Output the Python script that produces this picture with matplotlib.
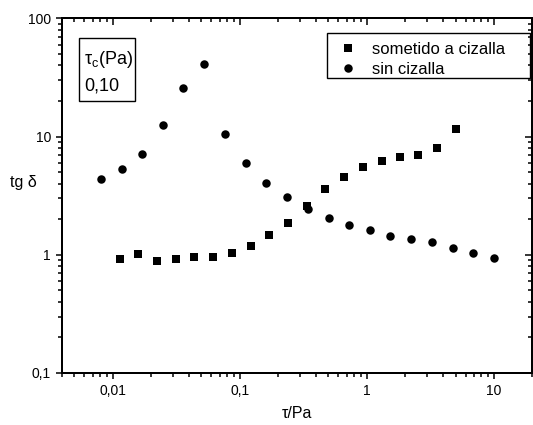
import matplotlib
matplotlib.use("Agg")
import matplotlib.pyplot as plt
from matplotlib.ticker import FixedLocator, FixedFormatter, LogLocator, NullFormatter
from matplotlib.patches import Rectangle

plt.rcParams['font.family'] = ['Liberation Sans', 'DejaVu Sans']
plt.rcParams['mathtext.fontset'] = 'custom'
plt.rcParams['mathtext.rm'] = 'Liberation Sans'
plt.rcParams['mathtext.it'] = 'Liberation Sans'

# Data
x_shear = [0.0114, 0.0159, 0.0224, 0.0313, 0.0441, 0.0615, 0.0866, 0.122, 0.1705,
           0.240, 0.338, 0.466, 0.659, 0.929, 1.309, 1.823, 2.549, 3.592, 5.058]
y_shear = [0.929, 1.01, 0.893, 0.929, 0.952, 0.966, 1.04, 1.18, 1.46,
           1.87, 2.57, 3.59, 4.53, 5.54, 6.27, 6.69, 6.96, 7.93, 11.6]
x_noshear = [0.00805, 0.01176, 0.01718, 0.02494, 0.03616, 0.05254, 0.07673, 0.112, 0.1627,
             0.2359, 0.3445, 0.503, 0.7306, 1.061, 1.539, 2.247, 3.264, 4.767, 6.922, 10.11]
y_noshear = [4.36, 5.27, 7.14, 12.4, 25.9, 40.8, 10.6, 5.99, 4.06,
             3.09, 2.45, 2.04, 1.79, 1.61, 1.44, 1.36, 1.28, 1.14, 1.03, 0.934]

label_shear = "sometido a cizalla"
label_noshear = "sin cizalla"

xticks = [0.01, 0.1, 1, 10]
xticklabels = ["0,01", "0,1", "1", "10"]
yticks = [0.1, 1, 10, 100]
yticklabels = ["0,1", "1", "10", "100"]
xlim = (0.004, 20)
ylim = (0.1, 100)

fig = plt.figure(figsize=(5.33, 4.25), dpi=100)
ax = fig.add_axes([62/533, 1-373/425, 470/533, 354.7/425])

ax.plot(x_shear, y_shear, 's', color='black', ms=5.5, mew=0, label=label_shear)
ax.plot(x_noshear, y_noshear, 'o', color='black', ms=6.1, mew=0, label=label_noshear)

ax.set_xscale('log')
ax.set_yscale('log')
ax.set_xlim(*xlim)
ax.set_ylim(*ylim)

ax.xaxis.set_major_locator(FixedLocator(xticks))
ax.xaxis.set_major_formatter(FixedFormatter(xticklabels))
ax.yaxis.set_major_locator(FixedLocator(yticks))
ax.yaxis.set_major_formatter(FixedFormatter(yticklabels))
ax.xaxis.set_minor_locator(LogLocator(base=10, subs=range(2, 10), numticks=20))
ax.yaxis.set_minor_locator(LogLocator(base=10, subs=range(2, 10), numticks=20))
ax.xaxis.set_minor_formatter(NullFormatter())
ax.yaxis.set_minor_formatter(NullFormatter())

ax.tick_params(which='major', direction='out', length=4.5, width=1.1, labelsize=10, pad=3.5)
ax.tick_params(which='minor', direction='out', length=2.7, width=1.1)

for s in ax.spines.values():
    s.set_linewidth(1.3)

# Top / right inward ticks
axt = ax.twiny()
axt.set_xscale('log')
axt.set_xlim(*xlim)
axt.xaxis.set_major_locator(FixedLocator(xticks))
axt.xaxis.set_minor_locator(LogLocator(base=10, subs=range(2, 10), numticks=20))
axt.xaxis.set_major_formatter(NullFormatter())
axt.xaxis.set_minor_formatter(NullFormatter())
axt.tick_params(which='major', direction='in', length=4.8, width=1.1)
axt.tick_params(which='minor', direction='in', length=2.9, width=1.1)

axr = ax.twinx()
axr.set_yscale('log')
axr.set_ylim(*ylim)
axr.yaxis.set_major_locator(FixedLocator(yticks))
axr.yaxis.set_minor_locator(LogLocator(base=10, subs=range(2, 10), numticks=20))
axr.yaxis.set_major_formatter(NullFormatter())
axr.yaxis.set_minor_formatter(NullFormatter())
axr.tick_params(which='major', direction='in', length=4.8, width=1.1)
axr.tick_params(which='minor', direction='in', length=2.9, width=1.1)
for a in (axt, axr):
    for s in a.spines.values():
        s.set_linewidth(1.3)

ax.set_xlabel("τ/Pa", fontsize=11.5, labelpad=6)
ax.set_ylabel("tg δ", fontsize=11.5, rotation=0)
ax.yaxis.set_label_coords(-39/470, (373-190)/354.7)

# Legend
leg = ax.legend(loc='upper left', bbox_to_anchor=((340-62)/470, (373-41.9)/354.7),
                borderaxespad=0, borderpad=0, frameon=False, fontsize=12,
                handlelength=1.0, handletextpad=0.9, labelspacing=0.29)
ax.add_patch(Rectangle(((327.3-62)/470, (373-78.3)/354.7), 202.7/470, 45/354.7,
                       transform=ax.transAxes, fill=False, ec='black', lw=1.0, zorder=5))

# Text box
ax.add_patch(Rectangle((17.3/470, (373-100.7)/354.7), 55.7/470, 63/354.7,
                       transform=ax.transAxes, fill=False, ec='black', lw=1.0, zorder=5))
ax.text((84-62)/470, (373-64)/354.7, "τ$_{\\mathrm{c}}$(Pa)", transform=ax.transAxes,
        fontsize=13, ha='left', va='baseline')
ax.text((84-62)/470, (373-90.7)/354.7, "0,10", transform=ax.transAxes,
        fontsize=13, ha='left', va='baseline')

fig.savefig("out.png", dpi=100)
